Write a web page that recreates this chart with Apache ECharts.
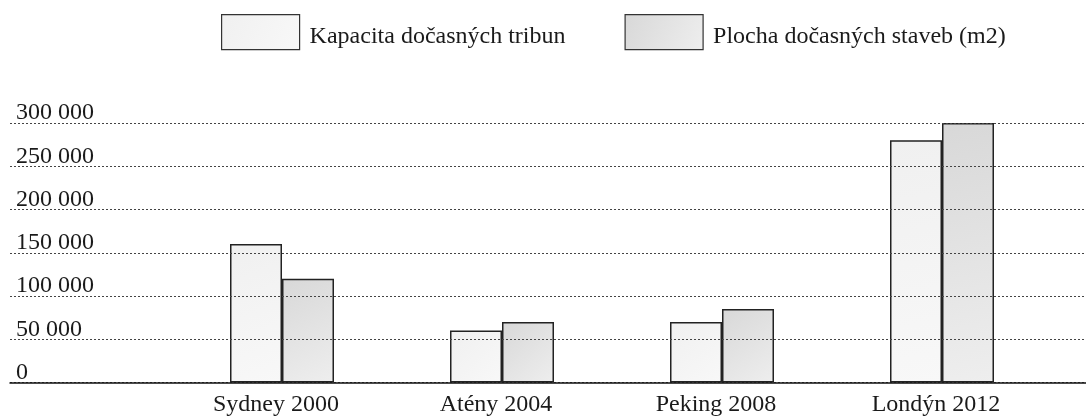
<!DOCTYPE html>
<html>
<head>
<meta charset="utf-8">
<script src="https://cdn.jsdelivr.net/npm/echarts@6/dist/echarts.min.js"></script>
<style>
  html, body { margin: 0; padding: 0; background: #fff; }
  #chart { width: 1086px; height: 418px; }
</style>
</head>
<body>
<div id="chart"></div>
<script>
const categories = ["Sydney 2000", "Atény 2004", "Peking 2008", "Londýn 2012"];
const tribuny = [160000, 60000, 70000, 280000];
const stavby = [120000, 70000, 85000, 300000];
const seriesNames = ["Kapacita dočasných tribun", "Plocha dočasných staveb (m2)"];

const font = "'Liberation Serif', 'Times New Roman', serif";
const gridTop = 123;
const gridBottom = 35.5;

const lightFill = new echarts.graphic.LinearGradient(0, 0, 1, 1, [
  { offset: 0, color: "#f0f0f0" },
  { offset: 1, color: "#f8f8f8" }
]);
const darkFill = new echarts.graphic.LinearGradient(0, 0, 1, 1, [
  { offset: 0, color: "#d8d8d8" },
  { offset: 1, color: "#eeeeee" }
]);

const fmt = (v) => String(v).replace(/\B(?=(\d{3})+(?!\d))/g, " ");

const myChart = echarts.init(document.getElementById("chart"));
myChart.setOption({
  animation: false,
  textStyle: { fontFamily: font },
  legend: {
    left: 216,
    top: 9,
    itemWidth: 78,
    itemHeight: 35,
    itemGap: 59,
    icon: "rect",
    data: seriesNames,
    itemStyle: { borderColor: "#333", borderWidth: 1.2 },
    formatter: (name) => `{t|${name}}`,
    textStyle: {
      rich: {
        t: {
          fontFamily: font,
          fontSize: 24,
          color: "#1a1a1a",
          padding: [10, 0, 0, 5]
        }
      }
    }
  },
  grid: [
    { left: 10, right: 0, top: gridTop, bottom: gridBottom },
    { left: 172, width: 880, top: gridTop, bottom: gridBottom }
  ],
  xAxis: [
    {
      gridIndex: 0,
      type: "value",
      min: 0,
      max: 1,
      zlevel: 1,
      axisLine: { show: true, lineStyle: { color: "#111", width: 1.5 } },
      axisTick: { show: false },
      axisLabel: { show: false },
      splitLine: { show: false }
    },
    {
      gridIndex: 1,
      type: "category",
      data: categories,
      axisLine: { show: false },
      axisTick: { show: false },
      axisLabel: {
        margin: 10,
        fontFamily: font,
        fontSize: 24,
        color: "#1a1a1a",
        padding: [0, 12, 0, 0]
      }
    }
  ],
  yAxis: [
    {
      gridIndex: 0,
      type: "value",
      min: 0,
      max: 300000,
      interval: 50000,
      zlevel: 1,
      axisLine: { show: false },
      axisTick: { show: false },
      axisLabel: {
        inside: true,
        margin: 6,
        verticalAlign: "bottom",
        lineHeight: 20,
        fontFamily: font,
        fontSize: 24,
        color: "#1a1a1a",
        formatter: fmt
      },
      splitLine: { lineStyle: { color: "#444", type: [2, 2], width: 1 } }
    },
    {
      gridIndex: 1,
      type: "value",
      min: 0,
      max: 300000,
      show: false
    }
  ],
  series: [
    {
      name: seriesNames[0],
      type: "bar",
      xAxisIndex: 1,
      yAxisIndex: 1,
      barWidth: 52,
      barGap: "0%",
      data: tribuny,
      itemStyle: { color: lightFill, borderColor: "#222", borderWidth: 1.5 }
    },
    {
      name: seriesNames[1],
      type: "bar",
      xAxisIndex: 1,
      yAxisIndex: 1,
      barWidth: 52,
      barGap: "0%",
      data: stavby,
      itemStyle: { color: darkFill, borderColor: "#222", borderWidth: 1.5 }
    }
  ]
});
</script>
</body>
</html>
